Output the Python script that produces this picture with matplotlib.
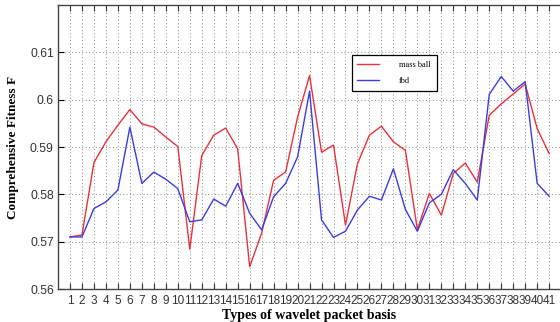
import numpy as np
import matplotlib
matplotlib.use("Agg")
import matplotlib.pyplot as plt

basis = np.arange(1, 42)

mass_ball = [0.5710, 0.5714, 0.5867, 0.5911, 0.5946, 0.5979, 0.5949, 0.5942, 0.5921, 0.5901,
             0.5684, 0.5882, 0.5925, 0.5940, 0.5896, 0.5647, 0.5718, 0.5830, 0.5847, 0.5963,
             0.6051, 0.5889, 0.5904, 0.5735, 0.5865, 0.5925, 0.5944, 0.5911, 0.5893, 0.5725,
             0.5802, 0.5756, 0.5844, 0.5866, 0.5826, 0.5967, 0.5991, 0.6012, 0.6033, 0.5939,
             0.5886]
fbd = [0.5710, 0.5710, 0.5770, 0.5784, 0.5809, 0.5942, 0.5823, 0.5847, 0.5832, 0.5812,
       0.5742, 0.5746, 0.5790, 0.5775, 0.5823, 0.5760, 0.5725, 0.5795, 0.5823, 0.5879,
       0.6018, 0.5746, 0.5709, 0.5722, 0.5767, 0.5796, 0.5788, 0.5854, 0.5768, 0.5722,
       0.5782, 0.5800, 0.5852, 0.5823, 0.5788, 0.6011, 0.6049, 0.6018, 0.6038, 0.5823,
       0.5796]
yticks = [0.56, 0.57, 0.58, 0.59, 0.60, 0.61]
ytick_labels = ["0.56", "0.57", "0.58", "0.59", "0.6", "0.61"]


def main():
    fig = plt.figure(figsize=(5.6, 3.22), dpi=100)
    ax = fig.add_axes([58 / 560, 1 - 289 / 322, 1 - 58 / 560 + 0.002, (289 - 5) / 322])

    ax.plot(basis, mass_ball, color="#e8323c", linewidth=1.0, label="mass ball")
    ax.plot(basis, fbd, color="#3c3ce0", linewidth=1.0, label="fbd")

    ax.set_xlim(0, 42)
    ax.set_ylim(0.56, 0.62)
    ax.set_xticks(basis)
    ax.set_xticklabels([str(b) for b in basis], fontsize=8.5, family="Liberation Sans")
    ax.set_yticks(yticks)
    ax.set_yticklabels(ytick_labels, fontsize=8.8, family="Liberation Sans", color="#333333")
    ax.tick_params(axis="both", direction="in", top=True, right=False, length=4,
                   width=0.8, pad=3)
    ax.tick_params(axis="x", pad=4, colors="#333333")

    ax.grid(True, linestyle=(0, (1, 2.5)), color="#888888", linewidth=0.7)
    for side in ["left", "bottom", "top"]:
        ax.spines[side].set_color("#444444")
        ax.spines[side].set_linewidth(1.0)
    ax.spines["right"].set_visible(False)

    ax.set_xlabel("Types of wavelet packet basis", family="Liberation Serif",
                  fontweight="bold", fontsize=10, labelpad=2)
    ax.set_ylabel("Comprehensive Fitness F", family="Liberation Serif",
                  fontweight="bold", fontsize=9.5, labelpad=8)

    leg = ax.legend(loc="upper left", bbox_to_anchor=(293 / 502, 1 - 50 / 284),
                    prop={"family": "Liberation Serif", "size": 6},
                    fancybox=False, framealpha=1, edgecolor="black",
                    handlelength=2.6, borderpad=0.7, labelspacing=1.0,
                    handletextpad=2.4, borderaxespad=0)
    leg.get_frame().set_linewidth(0.9)

    fig.savefig("out.png", dpi=100)


if __name__ == "__main__":
    main()
